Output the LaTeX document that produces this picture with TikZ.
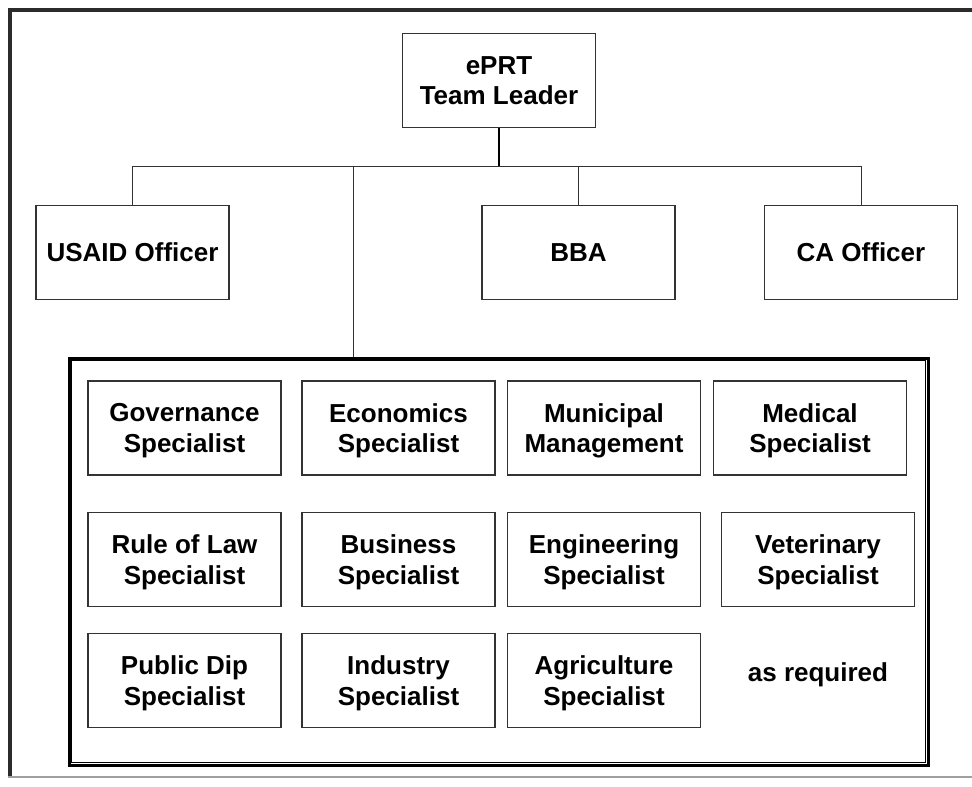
\documentclass[tikz,border=0pt]{standalone}
\usepackage{fontspec}
\setmainfont{Liberation Sans}
\definecolor{framecol}{HTML}{2B2B2B}
\definecolor{linecol}{HTML}{333333}
\definecolor{bottomcol}{HTML}{A0A0A0}
\begin{document}
\begin{tikzpicture}[x=1pt,y=-1pt,
  box/.style={draw=linecol, line width=1.3pt, minimum width=193pt, minimum height=94pt,
    inner sep=0pt, align=center, text depth=0pt, font=\fontsize{26}{30.7}\selectfont\bfseries},
  plain/.style={inner sep=0pt, align=center, text depth=0pt, font=\fontsize{26}{30.7}\selectfont\bfseries},
  conn/.style={draw=linecol, line width=1pt}]
\useasboundingbox (0,0) rectangle (972,787);
\fill[white] (0,0) rectangle (972,787);
% outer frame
\draw[framecol, line width=4.5pt] (10,777) -- (10,10) -- (975,10);
\draw[bottomcol, line width=1.5pt] (8,777) -- (972,777);
% top level
\node[box] (lead) at (499,80.5) {ePRT\\Team Leader};
\node[box] (usaid) at (132.5,252.5) {USAID Officer};
\node[box] (bba) at (578.5,252.5) {BBA};
\node[box] (ca) at (861,252.5) {CA Officer};
% team container
\node[draw=black, line width=3pt, minimum width=858.5pt, minimum height=407pt, inner sep=0pt] (team) at (498.75,561.5) {};
\draw[black, line width=1pt] ([xshift=3.6pt,yshift=-3.6pt]team.north west) rectangle ([xshift=-3.6pt,yshift=3.6pt]team.south east);
% specialists
\node[box] (gov) at (184.5,428) {Governance\\Specialist};
\node[box] (eco) at (398.5,428) {Economics\\Specialist};
\node[box] (mun) at (604,428) {Municipal\\Management};
\node[box] (med) at (810,428) {Medical\\Specialist};
\node[box] (rol) at (184.5,559.5) {Rule of Law\\Specialist};
\node[box] (bus) at (398.5,559.5) {Business\\Specialist};
\node[box] (eng) at (604,559.5) {Engineering\\Specialist};
\node[box] (vet) at (818,559.5) {Veterinary\\Specialist};
\node[box] (pub) at (184.5,680.5) {Public Dip\\Specialist};
\node[box] (ind) at (398.5,680.5) {Industry\\Specialist};
\node[box] (agr) at (604,680.5) {Agriculture\\Specialist};
\node[plain] (asreq) at (818,672) {as required};
% connectors
\coordinate (busline) at (499,166);
\coordinate (drop) at (353,166);
\draw[black, line width=2pt] (lead.south) -- (lead.south |- busline);
\draw[conn] (usaid.north) -- (usaid.north |- busline) -- (ca.north |- busline) -- (ca.north);
\draw[conn] (bba.north |- busline) -- (bba.north);
\draw[conn] (drop) -- (drop |- team.north);
\end{tikzpicture}
\end{document}
